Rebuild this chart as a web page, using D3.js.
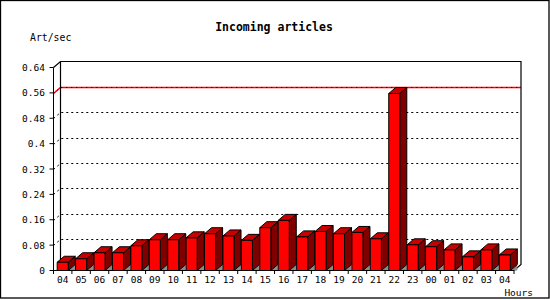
<!DOCTYPE html>
<html>
<head>
<meta charset="utf-8">
<script src="https://cdn.jsdelivr.net/npm/d3@7"></script>
<style>
  body { margin: 0; background: #fff; }
  svg text { font-family: "DejaVu Sans Mono", monospace; fill: #000; }
</style>
</head>
<body>
<div id="chart"></div>
<script>
// hours of the day (two "04" entries, so index based)
const hours = ["04", "05", "06", "07", "08", "09", "10", "11", "12", "13", "14", "15", "16",
               "17", "18", "19", "20", "21", "22", "23", "00", "01", "02", "03", "04"];
const artPerSec = [0.026, 0.037, 0.056, 0.056, 0.078, 0.097, 0.097, 0.103, 0.116, 0.109, 0.095, 0.135, 0.158,
                   0.106, 0.123, 0.116, 0.120, 0.100, 0.558, 0.081, 0.075, 0.065, 0.043, 0.065, 0.049];
const yTicks = [0, 0.08, 0.16, 0.24, 0.32, 0.4, 0.48, 0.56, 0.64];

const width = 550, height = 300;
const dx = 7, dy = 6; // 3d depth

const svg = d3.select("#chart").append("svg")
    .attr("width", width)
    .attr("height", height);

// outer frame
svg.append("rect")
    .attr("x", 0.5).attr("y", 0.5)
    .attr("width", 548.5).attr("height", 297.5)
    .attr("fill", "#fff")
    .attr("stroke", "#000")
    .attr("stroke-width", 1.3);

const x = d3.scaleBand()
    .domain(d3.range(hours.length))
    .range([53.5, 514]);

const y = d3.scaleLinear()
    .domain([0, 0.64])
    .range([270.5, 67.5]);

const x0 = x.range()[0], x1 = x.range()[1];
const y0 = y(0), yTop = y(0.64);

// grid lines (front axis -> side wall -> back wall)
const gridPath = v => `M${x0},${Math.round(y(v)) + 0.5}L${x0 + dx},${Math.round(y(v)) + 0.5 - dy}L${x1 + dx},${Math.round(y(v)) + 0.5 - dy}`;

const maxVal = d3.max(artPerSec);
const maxTick = yTicks.filter(t => t <= maxVal + 0.005).pop();

svg.append("g")
    .selectAll("path")
    .data(yTicks.filter(t => t > 0 && t < 0.64 && t !== maxTick))
    .join("path")
    .attr("d", gridPath)
    .attr("fill", "none")
    .attr("stroke", "#000")
    .attr("stroke-width", 1)
    .attr("stroke-dasharray", "2,3");

// red max line, with the grid dots over it
svg.append("path")
    .attr("d", gridPath(maxTick))
    .attr("fill", "none")
    .attr("stroke", "#ff0000")
    .attr("stroke-width", 1.6);

svg.append("path")
    .attr("d", gridPath(maxTick))
    .attr("fill", "none")
    .attr("stroke", "#000")
    .attr("stroke-width", 1)
    .attr("stroke-dasharray", "1,4");

// plot frame: top edge, back-left edge, right edge
svg.append("path")
    .attr("d", `M${x0},${yTop}L${x0 + dx},${yTop - dy}L${x1 + dx},${yTop - dy}L${x1 + dx},${y0 - dy}L${x1},${y0}`)
    .attr("fill", "none")
    .attr("stroke", "#000")
    .attr("stroke-width", 1.2);

svg.append("line")
    .attr("x1", x0 + dx).attr("x2", x0 + dx)
    .attr("y1", yTop - dy).attr("y2", y0 - dy)
    .attr("stroke", "#000")
    .attr("stroke-width", 1.2);

// bars
const bw = x.bandwidth() * 0.6;
const bars = svg.append("g")
    .attr("stroke", "#000")
    .attr("stroke-width", 1)
    .attr("stroke-linejoin", "round")
    .selectAll("g")
    .data(artPerSec)
    .join("g");

bars.append("path")
    .attr("fill", "#8c8c8c")
    .attr("stroke", "none")
    .attr("d", (d, i) => {
        const r = x(i) + (x.bandwidth() + bw) / 2;
        return `M${r},${y0}L${r + dx},${y0 - dy}L${r + dx},${y0}Z`;
    });

bars.append("path")
    .attr("fill", "#800000")
    .attr("d", (d, i) => {
        const r = x(i) + (x.bandwidth() + bw) / 2;
        return `M${r},${y(d)}L${r + dx},${y(d) - dy}L${r + dx},${y0 - dy}L${r},${y0}Z`;
    });

bars.append("path")
    .attr("fill", "#c80000")
    .attr("d", (d, i) => {
        const l = x(i) + (x.bandwidth() - bw) / 2;
        return `M${l},${y(d)}L${l + dx},${y(d) - dy}L${l + bw + dx},${y(d) - dy}L${l + bw},${y(d)}Z`;
    });

bars.append("rect")
    .attr("fill", "#ff0000")
    .attr("x", (d, i) => x(i) + (x.bandwidth() - bw) / 2)
    .attr("y", d => y(d))
    .attr("width", bw)
    .attr("height", d => y0 - y(d));

// y axis
svg.append("line")
    .attr("x1", x0).attr("x2", x0)
    .attr("y1", yTop).attr("y2", y0 + 3)
    .attr("stroke", "#000");

svg.append("line")
    .attr("x1", x0).attr("x2", x1)
    .attr("y1", y0).attr("y2", y0)
    .attr("stroke", "#000");

svg.append("g")
    .selectAll("line")
    .data(yTicks)
    .join("line")
    .attr("x1", x0 - 4).attr("x2", x0)
    .attr("y1", d => y(d)).attr("y2", d => y(d))
    .attr("stroke", "#000");

svg.append("g")
    .selectAll("text")
    .data(yTicks)
    .join("text")
    .attr("x", 45)
    .attr("y", d => y(d) + 3.5)
    .attr("text-anchor", "end")
    .attr("font-size", "9.5px")
    .text(d => d);

// x axis ticks and labels
svg.append("g")
    .selectAll("line")
    .data(d3.range(hours.length + 1))
    .join("line")
    .attr("x1", i => x0 + i * x.step()).attr("x2", i => x0 + i * x.step())
    .attr("y1", y0).attr("y2", y0 + 3.5)
    .attr("stroke", "#000");

svg.append("g")
    .selectAll("text")
    .data(hours)
    .join("text")
    .attr("x", (d, i) => x(i) + x.bandwidth() / 2)
    .attr("y", 283)
    .attr("text-anchor", "middle")
    .attr("font-size", "9.5px")
    .text(d => d);

// titles
svg.append("text")
    .attr("x", 274).attr("y", 31)
    .attr("text-anchor", "middle")
    .attr("font-size", "11.5px")
    .attr("font-weight", "bold")
    .text("Incoming articles");

svg.append("text")
    .attr("x", 30).attr("y", 41)
    .attr("font-size", "9.8px")
    .text("Art/sec");

svg.append("text")
    .attr("x", 533).attr("y", 296)
    .attr("text-anchor", "end")
    .attr("font-size", "9.5px")
    .text("Hours");
</script>
</body>
</html>
